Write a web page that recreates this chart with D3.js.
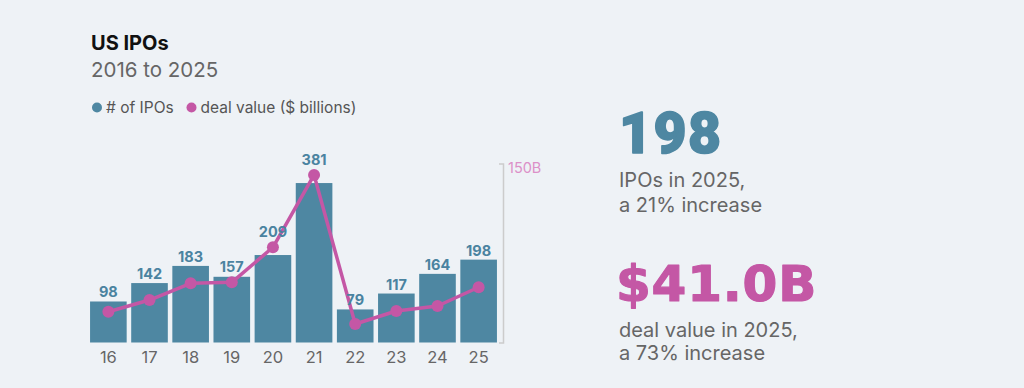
<!DOCTYPE html>
<html>
<head>
<meta charset="utf-8">
<script src="https://cdn.jsdelivr.net/npm/d3@7"></script>
<style>
  body { margin: 0; background: #eef2f6; }
  svg { display: block; font-family: Inter, Roboto, sans-serif; }
</style>
</head>
<body>
<div id="wrapper"></div>
<script>
// data
const years = ["16", "17", "18", "19", "20", "21", "22", "23", "24", "25"]
const ipoCounts = [98, 142, 183, 157, 209, 381, 79, 117, 164, 198]
const dealValues = [25.8, 35.6, 49.6, 50.4, 79.8, 140.4, 15.5, 26.4, 30.6, 46.3]
const dealTicks = [150]

const blue = "#4e87a2"
const blueText = "#4a83a0"
const pink = "#c457a5"
const grey = "#666"
const bodyFont = "Inter, Roboto, sans-serif"

const dataset = years.map((y, i) => ({ year: y, ipos: ipoCounts[i], deal: dealValues[i] }))

// dimensions
const dimensions = { width: 1024, height: 388 }

const wrapper = d3.select("#wrapper")
  .append("svg")
    .attr("width", dimensions.width)
    .attr("height", dimensions.height)

wrapper.append("rect")
  .attr("width", dimensions.width)
  .attr("height", dimensions.height)
  .attr("fill", "#eef2f6")

// header
wrapper.append("text")
  .attr("x", 91)
  .attr("y", 50)
  .attr("font-size", 20)
  .attr("font-weight", 700)
  .attr("fill", "#111")
  .text("US IPOs")

wrapper.append("text")
  .attr("x", 91)
  .attr("y", 77)
  .attr("font-size", 20.5)
  .attr("fill", grey)
  .text("2016 to 2025")

// legend
const legend = wrapper.append("g")
const legendItems = [
  { label: "# of IPOs", color: blue, x: 97 },
  { label: "deal value ($ billions)", color: pink, x: 191.5 }
]
legendItems.forEach(d => {
  legend.append("circle")
    .attr("cx", d.x)
    .attr("cy", 107.5)
    .attr("r", 5)
    .attr("fill", d.color)
  legend.append("text")
    .attr("x", d.x + 9)
    .attr("y", 112.5)
    .attr("font-size", 15.5)
    .attr("fill", "#555")
    .text(d.label)
})

// scales
const xScale = d3.scaleBand()
  .domain(years)
  .range([88, 499])
  .paddingInner(0.11)
  .paddingOuter(0.05)

const ipoScale = d3.scaleLinear()
  .domain([0, 400])
  .range([342.5, 175.1])

const dealScale = d3.scaleLinear()
  .domain([0, 150])
  .range([342.5, 163.5])

const bounds = wrapper.append("g")

// bars
bounds.selectAll("rect.bar")
  .data(dataset)
  .enter().append("rect")
    .attr("class", "bar")
    .attr("x", d => xScale(d.year))
    .attr("y", d => ipoScale(d.ipos))
    .attr("width", xScale.bandwidth())
    .attr("height", d => ipoScale(0) - ipoScale(d.ipos))
    .attr("fill", blue)

// x axis labels
const xAxis = d3.axisBottom(xScale).tickSize(0).tickPadding(9)
bounds.append("g")
  .attr("transform", `translate(0, ${ipoScale(0)})`)
  .call(xAxis)
  .call(g => g.select(".domain").remove())
  .call(g => g.selectAll("text")
    .attr("font-size", 16.5)
    .attr("font-family", bodyFont)
    .attr("fill", grey))

// right axis
const dealAxis = d3.axisRight(dealScale)
  .tickValues(dealTicks)
  .tickSizeInner(0)
  .tickSizeOuter(-4)
  .tickPadding(5)
  .tickFormat(d => `${d}B`)
bounds.append("g")
  .attr("transform", "translate(503, 0)")
  .call(dealAxis)
  .call(g => g.select(".domain").attr("stroke", "#ccc").attr("stroke-width", 1.5))
  .call(g => g.selectAll("text")
    .attr("font-size", 14.5)
    .attr("font-family", bodyFont)
    .attr("fill", "#dc90c8")
    .attr("dy", "0.6em"))

// deal value line
const xCenter = d => xScale(d.year) + xScale.bandwidth() / 2
const line = d3.line()
  .x(xCenter)
  .y(d => dealScale(d.deal))

bounds.append("path")
  .datum(dataset)
  .attr("d", line)
  .attr("fill", "none")
  .attr("stroke", pink)
  .attr("stroke-width", 3.5)
  .attr("stroke-linejoin", "round")

bounds.selectAll("circle.dot")
  .data(dataset)
  .enter().append("circle")
    .attr("class", "dot")
    .attr("cx", xCenter)
    .attr("cy", d => dealScale(d.deal))
    .attr("r", 6)
    .attr("fill", pink)

// bar value labels
bounds.selectAll("text.value")
  .data(dataset)
  .enter().append("text")
    .attr("class", "value")
    .attr("x", xCenter)
    .attr("y", d => Math.min(ipoScale(d.ipos) - 4, dealScale(d.deal) - 10))
    .attr("text-anchor", "middle")
    .attr("font-size", 14.5)
    .attr("font-weight", 700)
    .attr("fill", blueText)
    .text(d => d.ipos)

// callouts
const callouts = wrapper.append("g")

callouts.append("text")
  .attr("x", 619)
  .attr("y", 152.8)
  .attr("font-family", "Roboto, sans-serif")
  .attr("font-size", 57)
  .attr("font-weight", 900)
  .attr("fill", blue)
  .attr("stroke", blue)
  .attr("stroke-width", 1.6)
  .attr("stroke-linejoin", "round")
  .attr("letter-spacing", 1.5)
  .text(ipoCounts[ipoCounts.length - 1])

callouts.append("text")
  .attr("x", 619)
  .attr("y", 187)
  .attr("font-size", 20)
  .attr("fill", grey)
  .selectAll("tspan")
  .data(["IPOs in 2025,", "a 21% increase"])
  .enter().append("tspan")
    .attr("x", 619)
    .attr("dy", (d, i) => i ? 24.5 : 0)
    .text(d => d)

callouts.append("text")
  .attr("x", 616)
  .attr("y", 301)
  .attr("font-family", "'DejaVu Sans', sans-serif")
  .attr("font-size", 50)
  .attr("font-weight", 700)
  .attr("fill", pink)
  .attr("stroke", pink)
  .attr("stroke-width", 1.2)
  .attr("stroke-linejoin", "round")
  .attr("letter-spacing", 0.8)
  .text("$41.0B")

callouts.append("text")
  .attr("x", 619)
  .attr("y", 336.5)
  .attr("font-size", 20)
  .attr("fill", grey)
  .selectAll("tspan")
  .data(["deal value in 2025,", "a 73% increase"])
  .enter().append("tspan")
    .attr("x", 619)
    .attr("dy", (d, i) => i ? 23.5 : 0)
    .text(d => d)
</script>
</body>
</html>
